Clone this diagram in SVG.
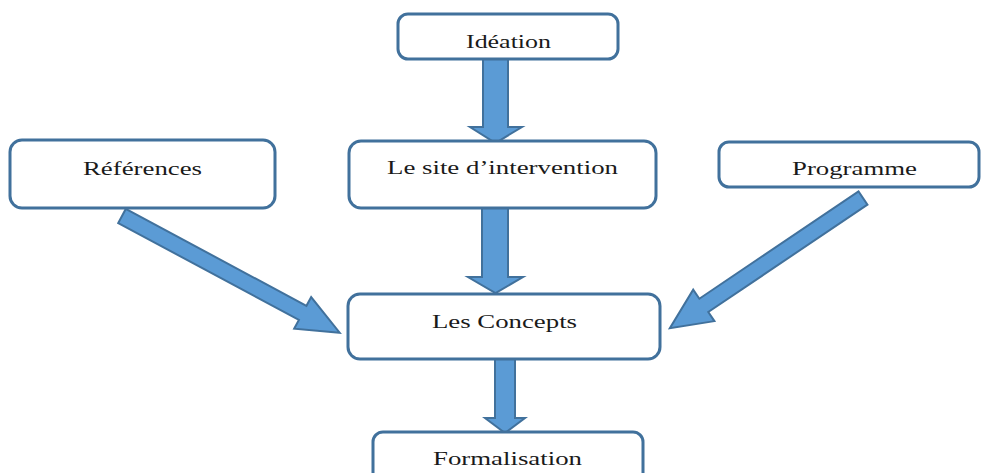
<svg xmlns="http://www.w3.org/2000/svg" width="981" height="473" viewBox="0 0 981 473">
<style>
.box{fill:#fff;stroke:#41719C;stroke-width:3}
.arr{fill:#5B9BD5;stroke:#41719C;stroke-width:2;stroke-linejoin:miter}
.lbl{font-family:"Liberation Serif","Times New Roman",serif;font-size:19px;fill:#1a1a1a;text-anchor:middle}
</style>
<rect width="981" height="473" fill="#fff"/>
<g id="connectors">
<polygon class="arr" points="483,59 508,59 508,127 522,127 495.5,143 470,127 483,127"/>
<polygon class="arr" points="482,208 508,208 508,277 523,277 495.5,293 468,277 482,277"/>
<polygon class="arr" points="495,359 515,359 515,418 525,418 505,433 485,418 495,418"/>
<polygon class="arr" transform="translate(122,216) rotate(28.2)" points="0,-8 205,-8 205,-18 247,0 205,18 205,8 0,8"/>
<polygon class="arr" transform="translate(863,198) rotate(146)" points="0,-8 192,-8 192,-19 233,0 192,19 192,8 0,8"/>
</g>
<g id="ideation">
<rect class="box" x="398" y="14" width="220" height="45" rx="10"/>
<text class="lbl" x="508.5" y="48" textLength="85" lengthAdjust="spacingAndGlyphs">Idéation</text>
</g>
<g id="references">
<rect class="box" x="10" y="140" width="265" height="68" rx="12"/>
<text class="lbl" x="142.5" y="175" textLength="119" lengthAdjust="spacingAndGlyphs">Références</text>
</g>
<g id="site">
<rect class="box" x="349" y="141" width="307" height="67" rx="12"/>
<text class="lbl" x="502.5" y="174" textLength="231" lengthAdjust="spacingAndGlyphs">Le site d’intervention</text>
</g>
<g id="programme">
<rect class="box" x="719" y="142" width="260" height="45" rx="10"/>
<text class="lbl" x="854.5" y="175" textLength="125" lengthAdjust="spacingAndGlyphs">Programme</text>
</g>
<g id="concepts">
<rect class="box" x="348" y="294" width="312" height="65" rx="12"/>
<text class="lbl" x="504.5" y="328" textLength="145" lengthAdjust="spacingAndGlyphs">Les Concepts</text>
</g>
<g id="formalisation">
<rect class="box" x="373" y="432" width="270" height="55" rx="10"/>
<text class="lbl" x="507.5" y="465" textLength="149" lengthAdjust="spacingAndGlyphs">Formalisation</text>
</g>
</svg>
